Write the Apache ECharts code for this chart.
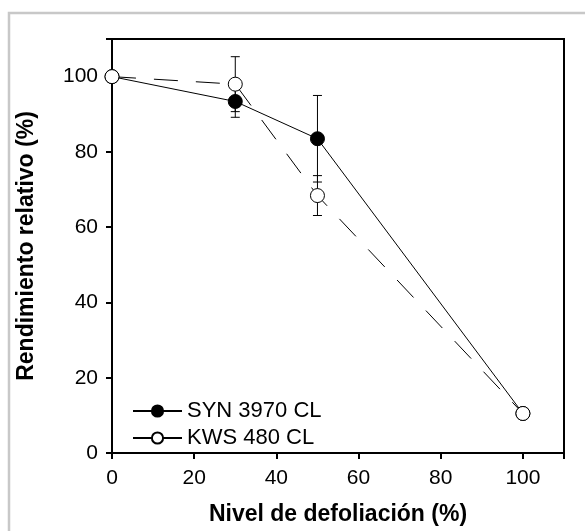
<!DOCTYPE html>
<html>
<head>
<meta charset="utf-8">
<script src="https://cdn.jsdelivr.net/npm/echarts@6/dist/echarts.min.js"></script>
<style>
  html, body { margin: 0; padding: 0; background: #fff; }
  #chart { width: 585px; height: 531px; }
</style>
</head>
<body>
<div id="chart"></div>
<script>
// defoliation levels (%)
var levels = [0, 30, 50, 100];
// SYN 3970 CL
var synMean = [100, 93.4, 83.5, 10.5];
var synErr = [0, 4.2, 11.5, 0];
// KWS 480 CL
var kwsMean = [100, 98.0, 68.4, 10.5];
var kwsErr = [0, 7.3, 5.3, 0];
var yTicks = [0, 20, 40, 60, 80, 100];

function pairs(ys) {
  return levels.map(function (x, i) { return [x, ys[i]]; });
}
function errData(ys, es) {
  var out = [];
  levels.forEach(function (x, i) {
    if (es[i] > 0) out.push([x, ys[i] - es[i], ys[i] + es[i]]);
  });
  return out;
}

function errRender(params, api) {
  var x = api.value(0);
  var lo = api.coord([x, api.value(1)]);
  var hi = api.coord([x, api.value(2)]);
  var w = 4.5;
  var st = { stroke: '#000', lineWidth: 1 };
  return {
    type: 'group',
    children: [
      { type: 'line', shape: { x1: lo[0], y1: lo[1], x2: hi[0], y2: hi[1] }, style: st },
      { type: 'line', shape: { x1: lo[0] - w, y1: lo[1], x2: lo[0] + w, y2: lo[1] }, style: st },
      { type: 'line', shape: { x1: hi[0] - w, y1: hi[1], x2: hi[0] + w, y2: hi[1] }, style: st }
    ]
  };
}

var font = 'Liberation Sans, Arial, sans-serif';
var chart = echarts.init(document.getElementById('chart'));
var option = {
  animation: false,
  textStyle: { fontFamily: font },
  graphic: [{
    type: 'rect',
    shape: { x: 9, y: 13, width: 700, height: 700 },
    style: { fill: 'none', stroke: '#c8c8c8', lineWidth: 2.5 },
    silent: true
  }],
  grid: {
    left: 112, top: 39, right: 21, bottom: 77,
    show: true, borderColor: '#000', borderWidth: 2, backgroundColor: 'transparent'
  },
  legend: {
    orient: 'vertical',
    left: 127, top: 395,
    itemWidth: 49, itemHeight: 14, itemGap: 5,
    textStyle: { fontSize: 22, color: '#000', fontFamily: font },
    data: [
      { name: 'SYN 3970 CL' },
      { name: 'KWS 480 CL', lineStyle: { type: 'solid' } }
    ]
  },
  xAxis: {
    type: 'value', min: 0, max: 110, interval: 20,
    name: 'Nivel de defoliación (%)', nameLocation: 'middle', nameGap: 50,
    nameTextStyle: { fontSize: 23, fontWeight: 'bold', color: '#000', fontFamily: font },
    axisLine: { show: true, lineStyle: { color: '#000', width: 2 } },
    axisTick: { show: true, length: 6, lineStyle: { color: '#000', width: 2 } },
    axisLabel: { fontSize: 21, color: '#000', margin: 15, fontFamily: font,
      formatter: function (v) { return v <= 100 ? String(v) : ''; } },
    splitLine: { show: false }
  },
  yAxis: {
    type: 'value', min: 0, max: 110, interval: 20,
    name: 'Rendimiento relativo (%)', nameLocation: 'middle', nameGap: 74,
    nameTextStyle: { fontSize: 23, fontWeight: 'bold', color: '#000', fontFamily: font },
    axisLine: { show: true, lineStyle: { color: '#000', width: 2 } },
    axisTick: { show: true, length: 6, lineStyle: { color: '#000', width: 2 } },
    axisLabel: { fontSize: 21, color: '#000', margin: 14, fontFamily: font,
      formatter: function (v) { return yTicks.indexOf(v) >= 0 ? String(v) : ''; } },
    splitLine: { show: false }
  },
  series: [
    {
      type: 'custom', renderItem: errRender, data: errData(synMean, synErr),
      encode: { x: 0, y: [1, 2] }, silent: true, z: 1
    },
    {
      type: 'custom', renderItem: errRender, data: errData(kwsMean, kwsErr),
      encode: { x: 0, y: [1, 2] }, silent: true, z: 1
    },
    {
      name: 'SYN 3970 CL', type: 'line', data: pairs(synMean),
      symbol: 'circle', symbolSize: 14, z: 3,
      lineStyle: { color: '#000', width: 1 },
      itemStyle: { color: '#000', borderColor: '#000', borderWidth: 1 }
    },
    {
      name: 'KWS 480 CL', type: 'line', data: pairs(kwsMean),
      symbol: 'circle', symbolSize: 14, z: 4,
      lineStyle: { color: '#000', width: 1, type: [24, 18] },
      itemStyle: { color: '#fff', borderColor: '#000', borderWidth: 1 }
    }
  ]
};
chart.setOption(option);
</script>
</body>
</html>
